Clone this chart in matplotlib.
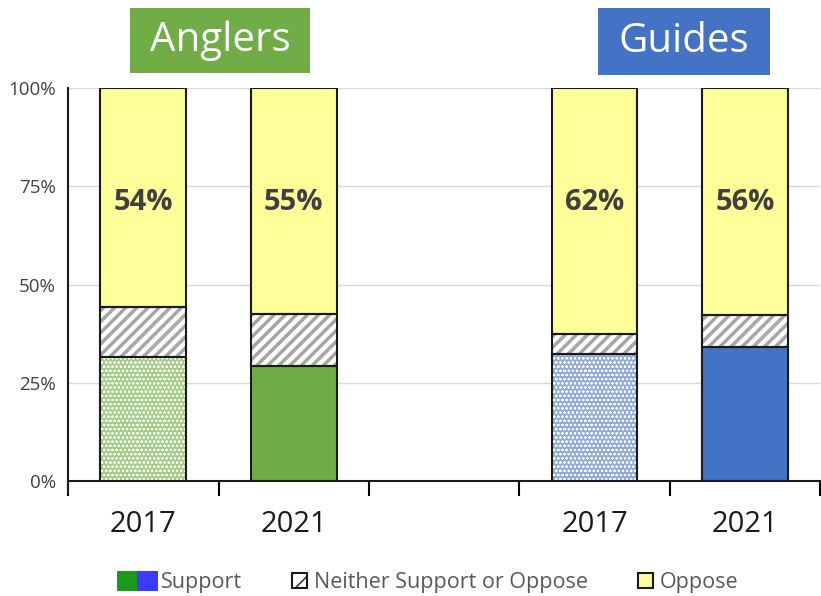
"""Stacked support/oppose bars for anglers and guides, 2017 vs 2021."""

import matplotlib

matplotlib.use("Agg")
import matplotlib.pyplot as plt
import matplotlib.ticker as mticker
from matplotlib.legend_handler import HandlerPatch, HandlerTuple
from matplotlib.patches import Patch, Rectangle

# data (percent of respondents)
years = ["2017", "2021", "", "2017", "2021"]
bar_pos = [0, 1, 3, 4]
support = [31.5, 29.3, 32.4, 34.0]
neither = [12.8, 13.3, 4.9, 8.2]
oppose_labels = [54, 55, 62, 56]
groups = ["Anglers", "Guides"]

# styles
GREEN = "#70AD47"
BLUE = "#4472C4"
LIGHT_GREEN = "#A2CE84"
LIGHT_BLUE = "#8FAADC"
YELLOW = "#FFFF99"
support_colors = [LIGHT_GREEN, GREEN, LIGHT_BLUE, BLUE]
support_patterned = [True, False, True, False]

plt.rcParams["font.family"] = ["Open Sans", "DejaVu Sans"]

fig = plt.figure(figsize=(8.21, 5.96), dpi=100)
ax = fig.add_axes([0.083, 0.193, 0.916, 0.659])

width = 0.57
oppose = [100 - s - n for s, n in zip(support, neither)]


def hatched_bar(x, h, bottom, face, hatch_col, hatch, lw):
    with plt.rc_context({"hatch.linewidth": lw}):
        bars = ax.bar(x, h, width, bottom=bottom, color=face,
                      edgecolor=hatch_col, linewidth=0, hatch=hatch, zorder=2)
    for p in bars:
        if hasattr(p, "set_hatch_linewidth"):
            p.set_hatch_linewidth(lw)
    return bars


for x, s, n, o, col, pat, lab in zip(
    bar_pos, support, neither, oppose, support_colors, support_patterned, oppose_labels
):
    # support segment
    if pat:
        hatched_bar(x, s, 0, col, "white", "oooo", 0.5)
    else:
        ax.bar(x, s, width, color=col, linewidth=0, zorder=2)
    # neither segment, gray diagonal stripes
    hatched_bar(x, n, s, "white", "#A6A6A6", "///", 2.5)
    # oppose segment
    ax.bar(x, o, width, bottom=s + n, color=YELLOW, linewidth=0, zorder=2)
    # outlines
    for b, h in ((0, s), (s, n), (s + n, o)):
        ax.bar(x, h, width, bottom=b, fill=False, edgecolor="#1A1A1A",
               linewidth=1.5, zorder=3)
    ax.text(x, 71, f"{lab}%", ha="center", va="center", fontsize=21,
            fontweight="bold", color="#404040", zorder=4)

ax.set_xlim(-0.5, 4.5)
ax.set_ylim(0, 100)
ax.set_yticks([0, 25, 50, 75, 100])
ax.yaxis.set_major_formatter(mticker.FuncFormatter(lambda v, _: f"{v:.0f}%"))
ax.tick_params(axis="y", length=0, pad=9, labelsize=13.5, labelcolor="#404040")
ax.grid(axis="y", color="#D9D9D9", linewidth=1, zorder=0)

# boundary ticks below the axis, labels at bar centres
ax.set_xticks([i - 0.5 for i in range(len(years) + 1)])
ax.set_xticklabels([])
ax.tick_params(axis="x", which="major", length=11, width=1.5, direction="out")
ax.set_xticks(range(len(years)), minor=True)
ax.set_xticklabels(years, minor=True)
ax.tick_params(axis="x", which="minor", length=0, pad=21, labelsize=21,
               labelcolor="#1A1A1A")

for side in ("top", "right"):
    ax.spines[side].set_visible(False)
for side in ("left", "bottom"):
    ax.spines[side].set_linewidth(1.5)
    ax.spines[side].set_color("#1A1A1A")
ax.spines["left"].set_bounds(-3, 100)
ax.spines["left"].set_clip_on(False)

# group title boxes
for name, col, (x0, y0, w, h) in zip(
    groups, [GREEN, BLUE],
    [(130 / 821, 1 - 73 / 596, 180 / 821, 65 / 596),
     (598 / 821, 1 - 75 / 596, 172 / 821, 67 / 596)],
):
    fig.patches.append(Rectangle((x0, y0), w, h, transform=fig.transFigure,
                                 facecolor=col, edgecolor="none"))
    fig.text(x0 + w / 2, y0 + h / 2, name, ha="center", va="center",
             fontsize=29, color="white")


def small_square(legend, orig_handle, xdescent, ydescent, width, height, fontsize):
    # smaller square near the right end of the handle box
    side = height * 0.78
    return Rectangle((width - side - 3 - xdescent, -ydescent + (height - side) / 2),
                     side, side)


handles = [
    (Patch(facecolor="#1A9A1A", edgecolor="none"),
     Patch(facecolor="#3B3BFF", edgecolor="none")),
    Patch(facecolor="white", edgecolor="#1A1A1A", hatch="//", linewidth=1.5),
    Patch(facecolor=YELLOW, edgecolor="#1A1A1A", linewidth=1.5),
]
leg = fig.legend(
    handles, ["Support", "Neither Support or Oppose", "Oppose"],
    loc="center", bbox_to_anchor=(0.521, 0.023), ncol=3, frameon=False,
    fontsize=15.5, handlelength=1.9, handleheight=1.0, handletextpad=0.15,
    columnspacing=1.3,
    handler_map={tuple: HandlerTuple(ndivide=None, pad=0),
                 handles[1]: HandlerPatch(patch_func=small_square),
                 handles[2]: HandlerPatch(patch_func=small_square)},
)
for t in leg.get_texts():
    t.set_color("#595959")

fig.savefig("out.png", dpi=100, facecolor="white")
